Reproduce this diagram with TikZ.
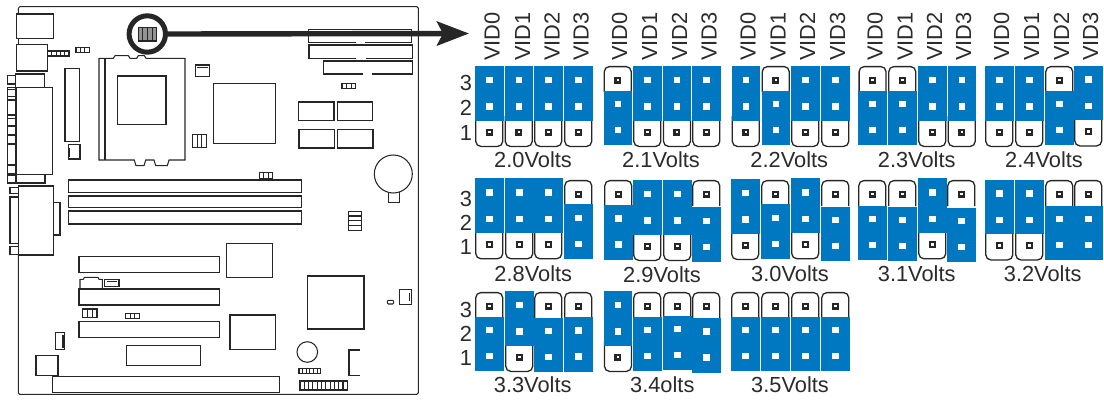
\documentclass[tikz,border=0pt]{standalone}
\usepackage{fontspec}
\setmainfont{Liberation Sans}
\usetikzlibrary{arrows.meta}
\definecolor{jblue}{HTML}{0078C1}
\definecolor{ink}{HTML}{262626}
\definecolor{txt}{HTML}{2B2B2B}
\tikzset{
  pcb/.style={draw=ink,line width=1.05bp,line join=miter},
  heavy/.style={draw=ink,line width=1.8bp},
  jout/.style={draw=ink,line width=1.3bp,rounded corners=5bp,fill=white},
  lbl/.style={text=txt,font=\fontsize{21.9}{24}\selectfont,inner sep=0pt},
  vid/.style={lbl,rotate=90,anchor=base west},
}
% x, y, state (T = open at the top, B = open at the bottom), row top
\newcommand\jcol[4]{%
  \def\jT{T}\edef\js{#3}%
  \ifx\js\jT
    \path[jout] (#1+.8,#4+26) -- (#1+.8,#4+.6) -- (#1+27.7,#4+.6) -- (#1+27.7,#4+26);
    \fill[jblue] (#1,#2+24.5) rectangle (#1+28.5,#2+79);
    \fill[ink] (#1+10.75,#4+10.5) rectangle (#1+17.75,#4+17.5);
    \fill[white] (#1+13,#4+12.75) rectangle (#1+15.5,#4+15.25);
    \fill[white] (#1+11,#2+34.75) rectangle (#1+17.5,#2+41.25);
    \fill[white] (#1+11,#2+60.75) rectangle (#1+17.5,#2+67.25);
  \else
    \path[jout] (#1+.8,#2+50) -- (#1+.8,#2+80.4) -- (#1+27.7,#2+80.4) -- (#1+27.7,#2+50);
    \fill[jblue] (#1,#2) rectangle (#1+28.5,#2+54.5);
    \fill[white] (#1+11,#2+10.75) rectangle (#1+17.5,#2+17.25);
    \fill[white] (#1+11,#2+37.25) rectangle (#1+17.5,#2+43.75);
    \fill[ink] (#1+10.75,#2+62.5) rectangle (#1+17.75,#2+69.5);
    \fill[white] (#1+13,#2+64.75) rectangle (#1+15.5,#2+67.25);
  \fi}
% x1, y1, x2, y2, number of cells along x
\newcommand\cellrow[5]{%
  \draw[pcb] (#1,#2) rectangle (#3,#4);
  \pgfmathtruncatemacro\cn{#5-1}%
  \foreach \ci in {1,...,\cn}{\draw[pcb] ({#1+(#3-#1)*\ci/#5},#2) -- ({#1+(#3-#1)*\ci/#5},#4);}}
\begin{document}
\begin{tikzpicture}[x=1bp,y=-1bp]
\useasboundingbox (0,0) rectangle (1104,401);
% board outline
\draw[pcb,rounded corners=1.5bp] (18.3,14) -- (18.3,6.7) -- (418.3,6.7) -- (418.3,394.3) -- (18.3,394.3) -- (18.3,255);
\draw[pcb] (18.3,38.3) -- (18.3,44.3);
% left edge connectors
\draw[pcb] (16.7,14) rectangle (53.3,38.3);
\draw[pcb] (16.7,44.3) rectangle (47.7,71);
\cellrow{47.7}{51}{69}{56}{5}
\cellrow{76}{47.3}{89.3}{52.3}{3}
\draw[pcb] (15.7,74) rectangle (44.3,87.3);
\draw[pcb] (7.7,75.7) rectangle (15.7,84);
\draw[pcb] (15.7,87.3) rectangle (52.3,174.7);
\draw[pcb] (16.7,174.7) rectangle (45,183);
\draw[pcb] (7.7,175.7) rectangle (15.7,183);
\draw[pcb] (7.7,87.3) rectangle (15.7,174.7);
\draw[heavy] (15.7,87.3) -- (15.7,174.7);
\foreach \yy in {89.3,96.7,100,115,118.3,126,135,144,165,173.3}{\draw[pcb] (7.7,\yy) -- (15.7,\yy);}
\draw[pcb] (18.3,186) rectangle (53.3,255);
\draw[pcb] (53.3,202.7) rectangle (60,235);
\draw[pcb] (10,187.7) rectangle (18.3,193.3);
\draw[pcb] (18.3,197) -- (10,197) -- (10,243.3) -- (18.3,243.3);
\draw[pcb] (10,246.7) rectangle (18.3,254.3);
% slot beside the socket
\draw[pcb] (65,68.3) rectangle (79.3,141.7);
\draw[pcb] (68.3,144.3) rectangle (80,159);
\draw[heavy] (69.5,148) -- (69.5,157);
% CPU socket
\draw[pcb] (113.3,58.3) -- (99,58.3) -- (99,160) -- (134.3,160) -- (136,165.7) -- (144,165.7) -- (145.7,160)
  -- (154,160) -- (155.7,165.7) -- (167.3,165.7) -- (169,160) -- (185,160) -- (185,58.3) -- (146,58.3)
  -- (144.3,55.7) -- (138.3,55.7) -- (136.7,58.3) -- (130,58.3) -- (128.3,55.7) -- (115,55.7) -- cycle;
\draw[pcb] (105,58.3) -- (105,160);
\draw[pcb] (117.3,76) rectangle (166,124.3);
% parts right of the socket
\draw[pcb] (195.3,65) rectangle (209.3,76.3);
\draw[pcb] (197,67.5) -- (208,67.5);
\cellrow{192.3}{134.3}{206.7}{147.3}{3}
\draw[pcb] (213.3,83.3) rectangle (275.7,143.3);
% top right slots
\draw[pcb] (355.7,42.3) -- (308.3,42.3) -- (308.3,29.3) -- (411.7,29.3) -- (411.7,42.3) -- (365,42.3);
\draw[pcb] (356,58.3) -- (309,58.3) -- (309,45) -- (412.3,45) -- (412.3,58.3) -- (365.7,58.3);
\draw[pcb] (362.7,74) -- (323.7,74) -- (323.7,61) -- (412.3,61) -- (412.3,74) -- (372.3,74);
\cellrow{342}{83.3}{355.7}{88.7}{3}
\draw[pcb] (298.7,102) rectangle (334,120.3);
\draw[pcb] (337.3,102) rectangle (372.7,120.3);
\draw[pcb] (299,129.3) rectangle (334.3,148);
\draw[pcb] (337.3,129.3) rectangle (373,148);
% battery
\draw[pcb] (393.3,174) circle[radius=19];
\draw[pcb] (388.3,191.7) -- (388.3,202.3) -- (399.3,202.3) -- (399.3,191.7);
% memory slots
\cellrow{259.3}{172.7}{272.7}{178.7}{3}
\draw[pcb] (68.3,180) rectangle (301.7,192.3);
\draw[pcb] (68.3,196) rectangle (301.7,207.3);
\draw[pcb] (68.3,211) rectangle (301.7,224);
\draw[pcb] (348.3,211.7) rectangle (361.7,230.7);
\foreach \yy in {216,220.7,225.7}{\draw[pcb] (348.3,\yy) -- (361.7,\yy);}
% expansion slots
\draw[pcb] (79,256.7) rectangle (219.3,272.7);
\draw[pcb] (79,289) rectangle (219.3,305);
\draw[pcb] (79,321.3) rectangle (219.3,337.3);
\draw[pcb] (226.7,243.3) rectangle (272.3,277.3);
\draw[pcb] (230,315) rectangle (275.3,349.3);
\draw[pcb] (307.7,276) rectangle (364,329);
\draw[pcb] (80,288.3) -- (80,279.3) -- (83.3,279.3) -- (84.5,277.3) -- (98,277.3) -- (99,279.3) -- (102.3,279.3) -- (102.3,288.3);
\draw[pcb] (104.3,279.3) rectangle (119,286.7);
\draw[heavy] (107,281.5) -- (117,281.5);
\cellrow{82.3}{309}{97}{317.3}{3}
\cellrow{125.7}{313.3}{139.3}{318.3}{3}
\draw[pcb] (55.7,332.3) rectangle (64.3,349.7);
\draw[heavy] (62.8,334.5) -- (62.8,347.5);
\draw[pcb] (126.7,345.3) rectangle (200.7,365.7);
\draw[pcb] (36,355.7) rectangle (58,375.7);
\draw[pcb] (52.7,376.7) rectangle (279.3,392.7);
% lower right parts
\draw[pcb] (307.3,352) circle[radius=10.3];
\cellrow{299}{368.3}{320.7}{373.3}{6}
\cellrow{300}{381}{347.3}{390}{11}
\draw[pcb] (360,350) -- (349,350) -- (349,375.7) -- (360,375.7);
\draw[pcb,rounded corners=1bp] (387.3,300.3) rectangle (393.7,304);
\draw[pcb] (399.7,289.7) rectangle (411.3,304.3);
\draw[heavy] (409.5,293) -- (409.5,301);
% marked jumper
\fill[gray!85] (138.3,27.7) rectangle (156.7,41);
\cellrow{138.3}{27.7}{156.7}{41}{4}
\node[draw=ink,line width=5bp,circle,minimum size=36.4bp,inner sep=0pt] (ring) at (147.3,34) {};
\coordinate (tip) at (469,33.5);
\draw[draw=ink,fill=ink,line width=5.4bp,-{Stealth[length=32bp,width=24bp,inset=6bp]}] (ring.east) -- (tip);
% VID labels
\foreach \xx/\vv [count=\i] in {499.5/0,530/1,559.5/2,588.5/3,627/0,657/1,687/2,716.5/3,755.5/0,785.5/1,815/2,845/3,882.5/0,912.5/1,942/2,971/3,1009/0,1039/1,1069/2,1098/3}
  \node[vid] (vid\i) at (\xx,61) {VID\vv};
% row numbers
\foreach \nn/\yy [count=\i] in {3/82.7,2/108,1/132.7,3/199.3,2/222.7,1/247.3,3/310,2/334.3,1/358.3}
  \node[lbl] (num\i) at (466,\yy) {\nn};
% jumpers, first row
\foreach \xx/\yy/\ss in {475/66/B,504.5/66/B,534/66/B,564/66/B,
  603.5/66/T,633/66/B,662.7/66/B,692/66/B,
  731.5/66/B,761.5/66/T,791/66/B,821/66/B,
  858.3/66/T,888/66/T,918/66/B,947.5/66/B,
  985/66/B,1015/66/B,1045/66/T,1074/65.5/B}
  {\jcol{\xx}{\yy}{\ss}{66}}
% second row
\foreach \xx/\yy/\ss in {475/178.3/B,505/178.3/B,534/178.3/B,564/179.8/T,
  604/180.5/T,633/180/B,663/180/B,692/182.8/T,
  731/179/B,761/179.8/T,791/178.3/B,821/182.2/T,
  858/181.2/T,888/182.2/T,918/178.3/B,947/183.2/T,
  985/179.5/B,1015/179.5/B,1045/181.2/T,1074/181.2/T}
  {\jcol{\xx}{\yy}{\ss}{180}}
% third row
\foreach \xx/\yy/\ss in {475/292/T,505/291/B,534/293/T,564/292.5/T,
  603.7/291/B,633/292/T,663/291/T,692/293.5/T,
  731/292/T,761/292/T,791/292/T,821/292/T}
  {\jcol{\xx}{\yy}{\ss}{292}}
% voltage labels
\foreach \xx/\yy/\vt [count=\i] in {533/160/2.0Volts,661/160/2.1Volts,789.3/159.5/2.2Volts,916.7/159.5/2.3Volts,1044/160/2.4Volts,
  533.3/274/2.8Volts,662/274.5/2.9Volts,790/274/3.0Volts,916.7/274/3.1Volts,1042.7/274/3.2Volts,
  532.7/385/3.3Volts,662.3/385/3.4olts,790/385/3.5Volts}
  \node[lbl] (volt\i) at (\xx,\yy) {\vt};
\end{tikzpicture}
\end{document}
